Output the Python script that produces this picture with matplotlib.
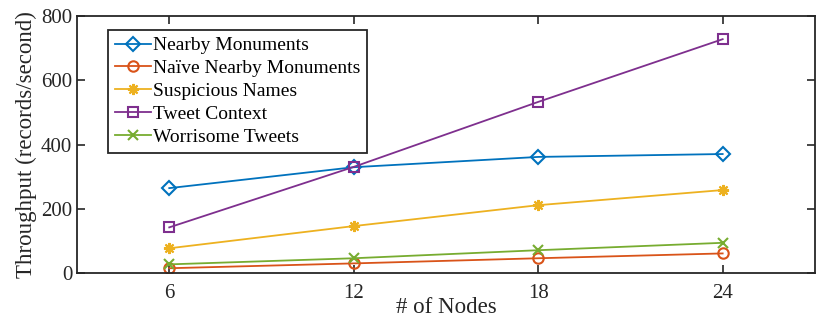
import numpy as np
import matplotlib.pyplot as plt

plt.rcParams['font.family'] = ['Liberation Serif', 'DejaVu Serif']

nodes = [6, 12, 18, 24]
nearby = [265, 330, 362, 371]
naive = [16, 31, 47, 62]
suspicious = [78, 147, 212, 259]
tweet_context = [143, 331, 533, 728]
worrisome = [28, 47, 72, 95]

labels = ['Nearby Monuments', 'Naïve Nearby Monuments', 'Suspicious Names',
          'Tweet Context', 'Worrisome Tweets']
colors = ['#0072BD', '#D95319', '#EDB120', '#7E2F8E', '#77AC30']
markers = ['D', 'o', (8, 2, 0), 's', 'x']
msizes = [7, 7.5, 8, 6.5, 6.5]

fig = plt.figure(figsize=(8.3, 3.27), dpi=100)
ax = fig.add_axes([0.0928, 0.164, 0.889, 0.787])

for ys, lab, c, m, ms in zip([nearby, naive, suspicious, tweet_context, worrisome],
                             labels, colors, markers, msizes):
    ax.plot(nodes, ys, color=c, marker=m, markersize=ms, linewidth=1.3,
            markerfacecolor='none', markeredgecolor=c, markeredgewidth=1.5,
            label=lab)

ax.set_xlim(3, 27)
ax.set_ylim(0, 800)
ax.set_xticks(nodes)
ax.set_yticks([0, 200, 400, 600, 800])
ax.tick_params(direction='in', length=6, width=1.2, labelsize=15,
               top=True, right=True, colors='#262626', labelcolor='#262626')
ax.tick_params(axis='x', pad=8)
for s in ax.spines.values():
    s.set_linewidth(1.3)
    s.set_color('#262626')

ax.set_xlabel('# of Nodes', fontsize=16.5, color='#262626', labelpad=-5)
ax.set_ylabel('Throughput (records/second)', fontsize=16.5, color='#262626', labelpad=3)

leg = ax.legend(loc='upper left', bbox_to_anchor=(0.042, 0.946), fontsize=14,
                fancybox=False, framealpha=1, edgecolor='#262626',
                handlelength=1.85, handletextpad=0.1, labelspacing=0.27,
                borderpad=0.35, borderaxespad=0)
leg.get_frame().set_linewidth(1.3)

fig.savefig('out.png', dpi=100)
